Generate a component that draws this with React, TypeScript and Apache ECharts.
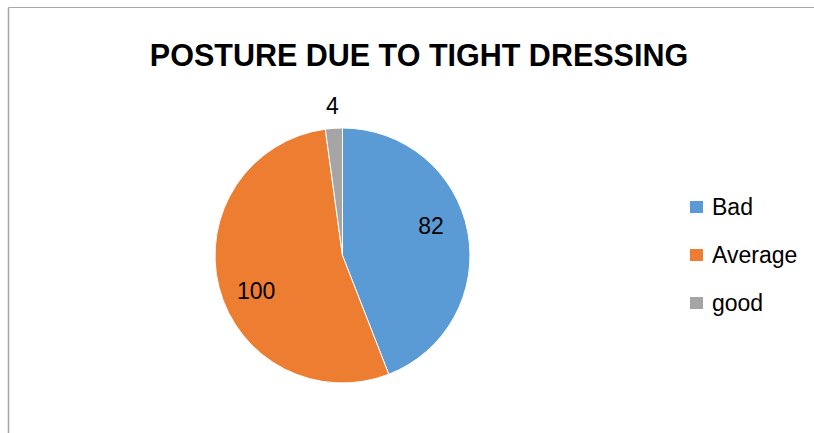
import React, { useEffect, useRef } from "react";
import * as echarts from "echarts";

const titleText = "POSTURE DUE TO TIGHT DRESSING";
const categories = ["Bad", "Average", "good"];
const values = [82, 100, 4];
const colors = ["#5B9BD5", "#ED7D31", "#A5A5A5"];
// which labels sit inside the slices and which sit outside the pie
const insideLabel = [true, true, false];

const FONT = "'Liberation Sans', Arial, sans-serif";

export default function App() {
  const ref = useRef<HTMLDivElement>(null);

  useEffect(() => {
    if (!ref.current) return;
    const chart = echarts.init(ref.current, undefined, { renderer: "svg" });
    const R = 127.5;
    const center = [342.5, 255.5];

    const mainData = categories.map((name, i) => ({
      name,
      value: values[i],
      itemStyle: { color: colors[i] },
    }));

    const overlayBase = {
      type: "pie",
      center,
      clockwise: true,
      silent: true,
      legendHoverLink: false,
      avoidLabelOverlap: false,
      emphasis: { disabled: true },
      labelLine: { show: false },
      itemStyle: { color: "rgba(0,0,0,0)", borderWidth: 0 },
      z: 5,
    };

    chart.setOption({
      animation: false,
      backgroundColor: "#ffffff",
      title: {
        text: titleText,
        left: 414,
        top: 34,
        textAlign: "center",
        textStyle: {
          fontFamily: FONT,
          fontSize: 30.5,
          fontWeight: "bold",
          color: "#000000",
        },
      },
      legend: {
        orient: "vertical",
        left: 688,
        top: 195,
        padding: 0,
        icon: "rect",
        itemWidth: 15,
        itemHeight: 14,
        itemGap: 24,
        selectedMode: false,
        data: categories.map((name, i) => ({ name, itemStyle: { color: colors[i] } })),
        textStyle: {
          fontFamily: FONT,
          fontSize: 23,
          lineHeight: 24,
          color: "#000000",
          padding: [0, 0, 0, 3],
        },
      },
      graphic: [
        {
          type: "line",
          shape: { x1: 8.5, y1: 7.5, x2: 820, y2: 7.5 },
          style: { stroke: "#A6A6A6", lineWidth: 1 },
          silent: true,
        },
        {
          type: "line",
          shape: { x1: 8.5, y1: 7.5, x2: 8.5, y2: 440 },
          style: { stroke: "#A6A6A6", lineWidth: 1.5 },
          silent: true,
        },
      ],
      series: [
        {
          type: "pie",
          name: "main",
          center,
          radius: R,
          startAngle: 90,
          clockwise: true,
          avoidLabelOverlap: false,
          label: { show: false },
          labelLine: { show: false },
          emphasis: { disabled: true },
          itemStyle: { borderColor: "#ffffff", borderWidth: 1 },
          data: mainData,
        },
        {
          ...overlayBase,
          name: "insideLabels",
          radius: [R * 0.42, R],
          startAngle: 98,
          label: {
            show: true,
            position: "inside",
            formatter: "{c}",
            fontFamily: FONT,
            fontSize: 23,
            color: "#000000",
          },
          data: categories.map((name, i) => ({
            name,
            value: values[i],
            label: { show: insideLabel[i] },
          })),
        },
        {
          ...overlayBase,
          name: "outsideLabels",
          radius: [R * 1.1, R * 1.2],
          startAngle: 90,
          label: {
            show: true,
            position: "inside",
            formatter: "{c}",
            fontFamily: FONT,
            fontSize: 23,
            color: "#000000",
          },
          data: categories.map((name, i) => ({
            name,
            value: values[i],
            label: { show: !insideLabel[i] },
          })),
        },
      ],
    });

    return () => {
      chart.dispose();
    };
  }, []);

  return (
    <div
      ref={ref}
      style={{
        position: "fixed",
        left: 0,
        top: 0,
        width: 814,
        height: 433,
        background: "#ffffff",
      }}
    />
  );
}
